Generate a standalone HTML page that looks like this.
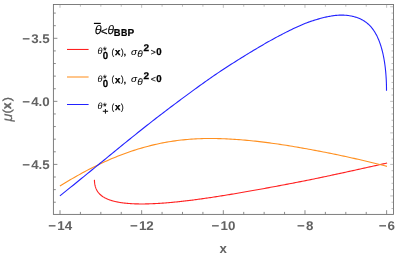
<!DOCTYPE html>
<html><head><meta charset="utf-8"><title>plot</title>
<style>
html,body{margin:0;padding:0;background:#fff;}
body{width:399px;height:257px;overflow:hidden;font-family:"Liberation Sans",sans-serif;}
svg{display:block;will-change:transform;text-rendering:geometricPrecision;font-family:"Liberation Sans",sans-serif;}
</style></head><body>
<svg width="399" height="257" viewBox="0 0 399 257">
<rect x="0" y="0" width="399" height="257" fill="#fff"/>
<g fill="none" stroke-width="1.1" stroke-linejoin="round" stroke-linecap="butt">
<path d="M94.39,179.90 L94.41,179.93 L94.43,180.42 L94.45,180.91 L94.48,181.39 L94.52,181.86 L94.56,182.32 L94.61,182.77 L94.67,183.22 L94.73,183.66 L94.80,184.09 L94.87,184.52 L94.95,184.94 L95.04,185.35 L95.14,185.75 L95.24,186.15 L95.35,186.54 L95.46,186.93 L95.58,187.31 L95.71,187.68 L95.84,188.05 L95.98,188.41 L96.13,188.77 L96.29,189.12 L96.45,189.46 L96.61,189.80 L96.79,190.13 L96.97,190.46 L97.15,190.78 L97.35,191.10 L97.55,191.41 L97.75,191.72 L97.97,192.02 L98.18,192.32 L98.41,192.61 L98.64,192.89 L98.88,193.18 L99.13,193.45 L99.38,193.73 L99.64,194.00 L99.90,194.26 L100.18,194.52 L100.45,194.78 L100.74,195.03 L101.03,195.27 L101.33,195.52 L101.63,195.76 L101.94,195.99 L102.26,196.22 L102.59,196.45 L102.92,196.67 L103.25,196.89 L103.60,197.10 L103.95,197.31 L104.30,197.52 L104.67,197.72 L105.04,197.92 L105.41,198.12 L105.80,198.31 L106.19,198.50 L106.58,198.69 L106.99,198.87 L107.39,199.05 L107.81,199.22 L108.23,199.39 L108.66,199.56 L109.10,199.72 L109.54,199.89 L109.99,200.04 L110.44,200.20 L110.90,200.35 L111.37,200.50 L111.85,200.64 L112.33,200.78 L112.82,200.92 L113.31,201.05 L113.81,201.18 L114.32,201.31 L114.83,201.44 L115.35,201.56 L115.88,201.68 L116.41,201.79 L116.95,201.91 L117.50,202.02 L118.05,202.12 L118.61,202.23 L119.18,202.33 L119.75,202.42 L120.33,202.52 L120.92,202.61 L121.51,202.70 L122.11,202.78 L122.72,202.86 L123.33,202.94 L123.95,203.02 L124.57,203.09 L125.21,203.16 L125.84,203.23 L126.49,203.29 L127.14,203.35 L127.80,203.41 L128.46,203.46 L129.13,203.52 L129.81,203.57 L130.50,203.61 L131.19,203.65 L131.88,203.69 L132.59,203.73 L133.30,203.77 L134.02,203.80 L134.74,203.83 L135.47,203.85 L136.21,203.87 L136.95,203.89 L137.70,203.91 L138.46,203.92 L139.22,203.93 L139.99,203.94 L140.76,203.95 L141.55,203.95 L142.33,203.95 L143.13,203.94 L143.93,203.94 L144.74,203.93 L145.56,203.91 L146.38,203.90 L147.21,203.88 L148.04,203.86 L148.88,203.84 L149.73,203.81 L150.59,203.78 L151.45,203.75 L152.31,203.71 L153.19,203.67 L154.07,203.63 L154.96,203.59 L155.85,203.54 L156.75,203.49 L157.66,203.44 L158.57,203.39 L159.49,203.33 L160.42,203.27 L161.35,203.21 L162.29,203.14 L163.24,203.08 L164.19,203.01 L165.15,202.93 L166.11,202.86 L167.09,202.78 L168.07,202.70 L169.05,202.62 L170.04,202.53 L171.04,202.44 L172.05,202.35 L173.06,202.26 L174.08,202.16 L175.10,202.06 L176.13,201.96 L177.17,201.85 L178.21,201.74 L179.27,201.63 L180.32,201.52 L181.39,201.40 L182.46,201.28 L183.53,201.16 L184.62,201.04 L185.71,200.91 L186.81,200.78 L187.91,200.64 L189.02,200.51 L190.14,200.37 L191.26,200.22 L192.39,200.08 L193.52,199.93 L194.67,199.78 L195.82,199.63 L196.97,199.48 L198.13,199.32 L199.30,199.16 L200.48,198.99 L201.66,198.83 L202.85,198.66 L204.04,198.49 L205.24,198.32 L206.45,198.15 L207.67,197.97 L208.89,197.79 L210.12,197.61 L211.35,197.42 L212.59,197.23 L213.84,197.04 L215.09,196.85 L216.35,196.66 L217.62,196.46 L218.89,196.26 L220.17,196.06 L221.46,195.86 L222.75,195.65 L224.05,195.44 L225.36,195.23 L226.67,195.02 L227.99,194.80 L229.32,194.59 L230.65,194.37 L231.99,194.15 L233.34,193.92 L234.69,193.69 L236.05,193.47 L237.41,193.23 L238.78,193.00 L240.16,192.77 L241.55,192.53 L242.94,192.29 L244.34,192.05 L245.74,191.80 L247.15,191.56 L248.57,191.31 L249.99,191.06 L251.42,190.81 L252.86,190.55 L254.31,190.30 L255.76,190.04 L257.21,189.77 L258.68,189.51 L260.15,189.25 L261.62,188.98 L263.11,188.71 L264.60,188.44 L266.09,188.16 L267.60,187.88 L269.10,187.61 L270.62,187.32 L272.14,187.04 L273.67,186.76 L275.21,186.47 L276.75,186.18 L278.30,185.89 L279.85,185.60 L281.41,185.30 L282.98,185.00 L284.56,184.71 L286.14,184.40 L287.73,184.10 L289.32,183.79 L290.92,183.49 L292.53,183.18 L294.14,182.86 L295.76,182.55 L297.39,182.23 L299.03,181.91 L300.67,181.59 L302.31,181.27 L303.97,180.94 L305.63,180.61 L307.29,180.28 L308.97,179.95 L310.65,179.61 L312.33,179.27 L314.02,178.93 L315.72,178.58 L317.43,178.23 L319.14,177.87 L320.86,177.51 L322.59,177.15 L324.32,176.78 L326.06,176.42 L327.80,176.04 L329.55,175.67 L331.31,175.29 L333.08,174.91 L334.85,174.53 L336.62,174.15 L338.41,173.76 L340.20,173.38 L342.00,172.99 L343.80,172.59 L345.61,172.20 L347.43,171.80 L349.25,171.40 L351.08,171.00 L352.92,170.60 L354.76,170.19 L356.61,169.79 L358.47,169.38 L360.33,168.97 L362.20,168.56 L364.08,168.15 L365.96,167.74 L367.85,167.32 L369.74,166.91 L371.65,166.49 L373.56,166.06 L375.47,165.63 L377.39,165.20 L379.32,164.77 L381.26,164.33 L383.20,163.89 L385.15,163.44 L387.10,162.99" stroke="#ff2020"/>
<path d="M59.90,185.96 L61.96,184.70 L64.01,183.45 L66.07,182.22 L68.13,181.00 L70.18,179.80 L72.24,178.61 L74.30,177.43 L76.35,176.26 L78.41,175.11 L80.47,173.97 L82.52,172.84 L84.58,171.73 L86.64,170.63 L88.69,169.55 L90.75,168.48 L92.81,167.43 L94.86,166.40 L96.92,165.39 L98.98,164.40 L101.03,163.43 L103.09,162.48 L105.15,161.54 L107.20,160.63 L109.26,159.74 L111.32,158.86 L113.37,158.01 L115.43,157.17 L117.48,156.34 L119.54,155.54 L121.60,154.75 L123.65,153.98 L125.71,153.23 L127.77,152.49 L129.82,151.77 L131.88,151.07 L133.94,150.39 L135.99,149.73 L138.05,149.09 L140.11,148.46 L142.16,147.86 L144.22,147.27 L146.28,146.70 L148.33,146.16 L150.39,145.63 L152.45,145.12 L154.50,144.64 L156.56,144.17 L158.62,143.72 L160.67,143.30 L162.73,142.89 L164.79,142.50 L166.84,142.14 L168.90,141.79 L170.96,141.46 L173.01,141.15 L175.07,140.85 L177.13,140.57 L179.18,140.31 L181.24,140.07 L183.30,139.85 L185.35,139.64 L187.41,139.45 L189.47,139.28 L191.52,139.12 L193.58,138.98 L195.64,138.86 L197.69,138.76 L199.75,138.68 L201.81,138.61 L203.86,138.55 L205.92,138.51 L207.98,138.49 L210.03,138.48 L212.09,138.49 L214.15,138.51 L216.20,138.54 L218.26,138.58 L220.32,138.64 L222.37,138.71 L224.43,138.79 L226.48,138.88 L228.54,138.99 L230.60,139.10 L232.65,139.22 L234.71,139.35 L236.77,139.50 L238.82,139.65 L240.88,139.80 L242.94,139.97 L244.99,140.14 L247.05,140.33 L249.11,140.52 L251.16,140.72 L253.22,140.93 L255.28,141.14 L257.33,141.37 L259.39,141.60 L261.45,141.84 L263.50,142.10 L265.56,142.36 L267.62,142.62 L269.67,142.90 L271.73,143.18 L273.79,143.47 L275.84,143.77 L277.90,144.07 L279.96,144.38 L282.01,144.69 L284.07,145.01 L286.13,145.33 L288.18,145.66 L290.24,145.99 L292.30,146.33 L294.35,146.68 L296.41,147.02 L298.47,147.37 L300.52,147.73 L302.58,148.09 L304.64,148.46 L306.69,148.83 L308.75,149.20 L310.81,149.58 L312.86,149.96 L314.92,150.35 L316.98,150.74 L319.03,151.13 L321.09,151.52 L323.15,151.92 L325.20,152.32 L327.26,152.73 L329.32,153.14 L331.37,153.55 L333.43,153.97 L335.48,154.39 L337.54,154.82 L339.60,155.25 L341.65,155.69 L343.71,156.13 L345.77,156.57 L347.82,157.02 L349.88,157.47 L351.94,157.93 L353.99,158.39 L356.05,158.85 L358.11,159.32 L360.16,159.79 L362.22,160.26 L364.28,160.74 L366.33,161.22 L368.39,161.71 L370.45,162.20 L372.50,162.70 L374.56,163.20 L376.62,163.71 L378.67,164.23 L380.73,164.76 L382.79,165.29 L384.84,165.84 L386.90,166.39" stroke="#ff9020"/>
<path d="M59.90,195.92 L62.08,194.17 L64.25,192.42 L66.42,190.68 L68.58,188.94 L70.73,187.19 L72.88,185.46 L75.01,183.72 L77.14,181.99 L79.27,180.27 L81.38,178.55 L83.49,176.83 L85.59,175.12 L87.68,173.41 L89.77,171.71 L91.85,170.02 L93.92,168.33 L95.98,166.65 L98.04,164.97 L100.09,163.29 L102.13,161.63 L104.17,159.96 L106.19,158.30 L108.21,156.64 L110.23,154.99 L112.23,153.35 L114.23,151.71 L116.22,150.09 L118.21,148.47 L120.18,146.86 L122.15,145.26 L124.11,143.66 L126.07,142.08 L128.01,140.51 L129.95,138.95 L131.89,137.40 L133.81,135.85 L135.73,134.31 L137.64,132.79 L139.54,131.27 L141.44,129.76 L143.33,128.26 L145.21,126.76 L147.08,125.28 L148.95,123.81 L150.81,122.35 L152.66,120.90 L154.51,119.46 L156.34,118.03 L158.17,116.62 L160.00,115.22 L161.81,113.83 L163.62,112.45 L165.42,111.09 L167.22,109.73 L169.00,108.38 L170.78,107.04 L172.55,105.71 L174.32,104.39 L176.08,103.07 L177.83,101.76 L179.57,100.46 L181.30,99.17 L183.03,97.88 L184.75,96.61 L186.47,95.34 L188.17,94.08 L189.87,92.84 L191.56,91.60 L193.25,90.37 L194.92,89.15 L196.59,87.94 L198.25,86.74 L199.91,85.55 L201.56,84.37 L203.20,83.20 L204.83,82.04 L206.46,80.88 L208.07,79.74 L209.68,78.61 L211.29,77.49 L212.89,76.39 L214.47,75.29 L216.06,74.21 L217.63,73.14 L219.20,72.09 L220.76,71.05 L222.31,70.02 L223.86,69.00 L225.39,67.99 L226.92,67.00 L228.45,66.01 L229.96,65.04 L231.47,64.07 L232.97,63.12 L234.47,62.17 L235.96,61.24 L237.43,60.31 L238.91,59.39 L240.37,58.47 L241.83,57.57 L243.28,56.67 L244.72,55.78 L246.16,54.90 L247.59,54.02 L249.01,53.15 L250.42,52.29 L251.83,51.43 L253.23,50.59 L254.62,49.75 L256.00,48.92 L257.38,48.10 L258.75,47.28 L260.11,46.48 L261.47,45.68 L262.82,44.90 L264.16,44.12 L265.49,43.35 L266.82,42.60 L268.14,41.85 L269.45,41.11 L270.75,40.38 L272.05,39.67 L273.34,38.96 L274.62,38.26 L275.90,37.57 L277.16,36.89 L278.42,36.22 L279.68,35.56 L280.92,34.90 L282.16,34.26 L283.39,33.62 L284.62,32.99 L285.83,32.37 L287.04,31.76 L288.24,31.15 L289.44,30.56 L290.63,29.97 L291.81,29.40 L292.98,28.83 L294.14,28.27 L295.30,27.72 L296.45,27.19 L297.60,26.66 L298.73,26.15 L299.86,25.65 L300.98,25.16 L302.10,24.69 L303.20,24.23 L304.30,23.78 L305.40,23.35 L306.48,22.93 L307.56,22.52 L308.63,22.13 L309.69,21.75 L310.75,21.39 L311.80,21.03 L312.84,20.69 L313.87,20.36 L314.90,20.03 L315.92,19.72 L316.93,19.42 L317.93,19.13 L318.93,18.85 L319.92,18.57 L320.90,18.31 L321.88,18.05 L322.85,17.81 L323.81,17.57 L324.76,17.34 L325.71,17.12 L326.65,16.91 L327.58,16.71 L328.50,16.53 L329.42,16.35 L330.33,16.18 L331.23,16.02 L332.13,15.88 L333.01,15.75 L333.89,15.63 L334.77,15.52 L335.63,15.42 L336.49,15.33 L337.34,15.26 L338.19,15.20 L339.02,15.16 L339.85,15.12 L340.67,15.10 L341.49,15.09 L342.30,15.10 L343.10,15.11 L343.89,15.14 L344.67,15.18 L345.45,15.23 L346.22,15.30 L346.99,15.37 L347.74,15.46 L348.49,15.56 L349.23,15.67 L349.97,15.79 L350.69,15.92 L351.41,16.06 L352.13,16.21 L352.83,16.37 L353.53,16.54 L354.22,16.73 L354.90,16.92 L355.58,17.12 L356.25,17.33 L356.91,17.55 L357.56,17.78 L358.21,18.03 L358.85,18.28 L359.48,18.55 L360.11,18.82 L360.72,19.11 L361.33,19.41 L361.94,19.72 L362.53,20.04 L363.12,20.37 L363.70,20.72 L364.27,21.08 L364.84,21.45 L365.40,21.84 L365.95,22.24 L366.50,22.65 L367.03,23.07 L367.56,23.51 L368.08,23.97 L368.60,24.43 L369.11,24.92 L369.61,25.41 L370.10,25.92 L370.59,26.45 L371.07,26.99 L371.54,27.54 L372.00,28.11 L372.46,28.70 L372.91,29.30 L373.35,29.91 L373.78,30.54 L374.21,31.19 L374.63,31.84 L375.04,32.52 L375.45,33.21 L375.85,33.91 L376.24,34.63 L376.62,35.36 L377.00,36.11 L377.37,36.87 L377.73,37.65 L378.08,38.44 L378.43,39.24 L378.77,40.06 L379.10,40.90 L379.43,41.75 L379.75,42.61 L380.06,43.48 L380.36,44.37 L380.65,45.28 L380.94,46.19 L381.22,47.12 L381.50,48.06 L381.77,49.02 L382.02,49.99 L382.28,50.97 L382.52,51.96 L382.76,52.97 L382.99,53.98 L383.21,55.01 L383.43,56.05 L383.64,57.11 L383.84,58.17 L384.03,59.24 L384.22,60.33 L384.40,61.42 L384.57,62.53 L384.73,63.64 L384.89,64.76 L385.04,65.90 L385.18,67.04 L385.32,68.19 L385.44,69.34 L385.56,70.51 L385.68,71.68 L385.78,72.86 L385.88,74.05 L385.97,75.24 L386.06,76.43 L386.13,77.64 L386.20,78.84 L386.27,80.05 L386.32,81.27 L386.37,82.48 L386.41,83.70 L386.44,84.92 L386.47,86.15 L386.49,87.37 L386.50,88.59 L386.50,89.82 L386.50,90.70" stroke="#2222ff"/>
</g>
<g stroke="#707070" stroke-width="0.9" fill="none">
<rect x="53.4" y="4.5" width="340.1" height="209.9"/>
<g stroke-width="0.85" stroke="#777">
<line x1="60.00" y1="214.4" x2="60.00" y2="210.20"/>
<line x1="80.41" y1="214.4" x2="80.41" y2="211.90"/>
<line x1="100.83" y1="214.4" x2="100.83" y2="211.90"/>
<line x1="121.25" y1="214.4" x2="121.25" y2="211.90"/>
<line x1="141.66" y1="214.4" x2="141.66" y2="210.20"/>
<line x1="162.07" y1="214.4" x2="162.07" y2="211.90"/>
<line x1="182.49" y1="214.4" x2="182.49" y2="211.90"/>
<line x1="202.91" y1="214.4" x2="202.91" y2="211.90"/>
<line x1="223.32" y1="214.4" x2="223.32" y2="210.20"/>
<line x1="243.73" y1="214.4" x2="243.73" y2="211.90"/>
<line x1="264.15" y1="214.4" x2="264.15" y2="211.90"/>
<line x1="284.56" y1="214.4" x2="284.56" y2="211.90"/>
<line x1="304.98" y1="214.4" x2="304.98" y2="210.20"/>
<line x1="325.39" y1="214.4" x2="325.39" y2="211.90"/>
<line x1="345.81" y1="214.4" x2="345.81" y2="211.90"/>
<line x1="366.22" y1="214.4" x2="366.22" y2="211.90"/>
<line x1="386.64" y1="214.4" x2="386.64" y2="210.20"/>
<line x1="53.4" y1="202.23" x2="55.80" y2="202.23"/>
<line x1="53.4" y1="189.62" x2="55.80" y2="189.62"/>
<line x1="53.4" y1="177.01" x2="55.80" y2="177.01"/>
<line x1="53.4" y1="164.40" x2="57.40" y2="164.40"/>
<line x1="53.4" y1="151.79" x2="55.80" y2="151.79"/>
<line x1="53.4" y1="139.18" x2="55.80" y2="139.18"/>
<line x1="53.4" y1="126.57" x2="55.80" y2="126.57"/>
<line x1="53.4" y1="113.96" x2="55.80" y2="113.96"/>
<line x1="53.4" y1="101.35" x2="57.40" y2="101.35"/>
<line x1="53.4" y1="88.74" x2="55.80" y2="88.74"/>
<line x1="53.4" y1="76.13" x2="55.80" y2="76.13"/>
<line x1="53.4" y1="63.52" x2="55.80" y2="63.52"/>
<line x1="53.4" y1="50.91" x2="55.80" y2="50.91"/>
<line x1="53.4" y1="38.30" x2="57.40" y2="38.30"/>
<line x1="53.4" y1="25.69" x2="55.80" y2="25.69"/>
<line x1="53.4" y1="13.08" x2="55.80" y2="13.08"/>
</g>
<g stroke-width="0.55" stroke="#8a8a8a">
<line x1="60.00" y1="4.5" x2="60.00" y2="7.80"/>
<line x1="80.41" y1="4.5" x2="80.41" y2="6.70"/>
<line x1="100.83" y1="4.5" x2="100.83" y2="6.70"/>
<line x1="121.25" y1="4.5" x2="121.25" y2="6.70"/>
<line x1="141.66" y1="4.5" x2="141.66" y2="7.80"/>
<line x1="162.07" y1="4.5" x2="162.07" y2="6.70"/>
<line x1="182.49" y1="4.5" x2="182.49" y2="6.70"/>
<line x1="202.91" y1="4.5" x2="202.91" y2="6.70"/>
<line x1="223.32" y1="4.5" x2="223.32" y2="7.80"/>
<line x1="243.73" y1="4.5" x2="243.73" y2="6.70"/>
<line x1="264.15" y1="4.5" x2="264.15" y2="6.70"/>
<line x1="284.56" y1="4.5" x2="284.56" y2="6.70"/>
<line x1="304.98" y1="4.5" x2="304.98" y2="7.80"/>
<line x1="325.39" y1="4.5" x2="325.39" y2="6.70"/>
<line x1="345.81" y1="4.5" x2="345.81" y2="6.70"/>
<line x1="366.22" y1="4.5" x2="366.22" y2="6.70"/>
<line x1="386.64" y1="4.5" x2="386.64" y2="7.80"/>
<line x1="393.5" y1="208.53" x2="391.50" y2="208.53"/>
<line x1="393.5" y1="202.23" x2="391.50" y2="202.23"/>
<line x1="393.5" y1="195.93" x2="390.20" y2="195.93"/>
<line x1="393.5" y1="189.62" x2="391.50" y2="189.62"/>
<line x1="393.5" y1="183.32" x2="391.50" y2="183.32"/>
<line x1="393.5" y1="177.01" x2="391.50" y2="177.01"/>
<line x1="393.5" y1="170.70" x2="391.50" y2="170.70"/>
<line x1="393.5" y1="164.40" x2="390.20" y2="164.40"/>
<line x1="393.5" y1="158.10" x2="391.50" y2="158.10"/>
<line x1="393.5" y1="151.79" x2="391.50" y2="151.79"/>
<line x1="393.5" y1="145.48" x2="391.50" y2="145.48"/>
<line x1="393.5" y1="139.18" x2="391.50" y2="139.18"/>
<line x1="393.5" y1="132.88" x2="390.20" y2="132.88"/>
<line x1="393.5" y1="126.57" x2="391.50" y2="126.57"/>
<line x1="393.5" y1="120.27" x2="391.50" y2="120.27"/>
<line x1="393.5" y1="113.96" x2="391.50" y2="113.96"/>
<line x1="393.5" y1="107.65" x2="391.50" y2="107.65"/>
<line x1="393.5" y1="101.35" x2="390.20" y2="101.35"/>
<line x1="393.5" y1="95.05" x2="391.50" y2="95.05"/>
<line x1="393.5" y1="88.74" x2="391.50" y2="88.74"/>
<line x1="393.5" y1="82.44" x2="391.50" y2="82.44"/>
<line x1="393.5" y1="76.13" x2="391.50" y2="76.13"/>
<line x1="393.5" y1="69.82" x2="390.20" y2="69.82"/>
<line x1="393.5" y1="63.52" x2="391.50" y2="63.52"/>
<line x1="393.5" y1="57.21" x2="391.50" y2="57.21"/>
<line x1="393.5" y1="50.91" x2="391.50" y2="50.91"/>
<line x1="393.5" y1="44.60" x2="391.50" y2="44.60"/>
<line x1="393.5" y1="38.30" x2="390.20" y2="38.30"/>
<line x1="393.5" y1="32.00" x2="391.50" y2="32.00"/>
<line x1="393.5" y1="25.69" x2="391.50" y2="25.69"/>
<line x1="393.5" y1="19.39" x2="391.50" y2="19.39"/>
<line x1="393.5" y1="13.08" x2="391.50" y2="13.08"/>
<line x1="393.5" y1="6.77" x2="390.20" y2="6.77"/>
</g>
</g>
<g fill="#626262" font-weight="bold" font-size="12.6">
<text transform="translate(49.70,42.50) scale(1.06,1)" text-anchor="end">−<tspan dx="1.1">3.5</tspan></text>
<text transform="translate(49.70,105.55) scale(1.06,1)" text-anchor="end">−<tspan dx="1.1">4.0</tspan></text>
<text transform="translate(49.70,168.60) scale(1.06,1)" text-anchor="end">−<tspan dx="1.1">4.5</tspan></text>
<text transform="translate(60.20,229.55) scale(1.06,1)" text-anchor="middle">−<tspan dx="1.1">14</tspan></text>
<text transform="translate(141.86,229.55) scale(1.06,1)" text-anchor="middle">−<tspan dx="1.1">12</tspan></text>
<text transform="translate(223.52,229.55) scale(1.06,1)" text-anchor="middle">−<tspan dx="1.1">10</tspan></text>
<text transform="translate(305.18,229.55) scale(1.06,1)" text-anchor="middle">−<tspan dx="1.1">8</tspan></text>
<text transform="translate(386.84,229.55) scale(1.06,1)" text-anchor="middle">−<tspan dx="1.1">6</tspan></text>
<text x="223.1" y="252.65" text-anchor="middle" font-size="13.2">x</text>
</g>
<g fill="#666" transform="translate(0,130) rotate(-90)">
<text transform="translate(8.40,12.16) scale(1.026,1)" font-size="14.02" font-style="italic" stroke="#666" stroke-width="0.2">μ</text><text transform="translate(16.41,10.70) scale(1.100,1)" font-size="11.59" stroke="#666" stroke-width="0.3">(</text><text transform="translate(21.02,11.20) scale(0.930,1)" font-size="12.30" font-weight="bold" stroke="#666" stroke-width="0.45">x</text><text transform="translate(28.73,10.70) scale(1.100,1)" font-size="11.59" stroke="#666" stroke-width="0.3">)</text>
</g>
<g fill="#000">
<line x1="93.9" y1="23.4" x2="100.8" y2="23.4" stroke="#000" stroke-width="1.2"/><text transform="translate(94.73,34.13) scale(1.016,1)" font-size="12.39" font-style="italic" stroke="#000" stroke-width="0.05">θ</text><text transform="translate(100.77,34.59) scale(1.045,1)" font-size="11.22" stroke="#000" stroke-width="0.15">&lt;</text><text transform="translate(107.56,34.13) scale(0.966,1)" font-size="12.39" font-style="italic" stroke="#000" stroke-width="0.05">θ</text><text transform="translate(113.82,36.05) scale(0.932,1)" font-size="10.03" font-weight="bold" stroke="#000" stroke-width="0.2">B</text><text transform="translate(121.06,36.05) scale(0.883,1)" font-size="10.03" font-weight="bold" stroke="#000" stroke-width="0.2">B</text><text transform="translate(127.58,36.05) scale(1.004,1)" font-size="10.03" font-weight="bold" stroke="#000" stroke-width="0.2">P</text><line x1="67" y1="49.45" x2="88.6" y2="49.45" stroke="#ff2020" stroke-width="1.05"/><text transform="translate(97.40,54.26) scale(0.996,1)" font-size="9.12" font-style="italic" stroke="#000" stroke-width="0.05">θ</text><text transform="translate(103.10,54.30) scale(0.903,1)" font-size="10.54" stroke="#000" stroke-width="0.15">*</text><text transform="translate(102.77,59.25) scale(0.938,1)" font-size="10.31" font-weight="bold" stroke="#000" stroke-width="0.25">0</text><text transform="translate(111.46,54.73) scale(0.900,1)" font-size="8.80" stroke="#000" stroke-width="0.15">(</text><text transform="translate(114.98,54.85) scale(1.034,1)" font-size="9.27" font-weight="bold" stroke="#000" stroke-width="0.3">x</text><text transform="translate(121.10,54.73) scale(0.900,1)" font-size="8.80" stroke="#000" stroke-width="0.15">)</text><text transform="translate(123.06,54.84) scale(1.296,1)" font-size="10.22" stroke="#000" stroke-width="0.15">,</text><text transform="translate(131.02,54.56) scale(1.074,1)" font-size="9.29" font-style="italic" stroke="#000" stroke-width="0.05">σ</text><text transform="translate(137.35,57.46) scale(1.093,1)" font-size="9.26" font-style="italic" stroke="#000" stroke-width="0.05">θ</text><text transform="translate(143.60,50.95) scale(1.061,1)" font-size="9.60" font-weight="bold" stroke="#000" stroke-width="0.25">2</text><text transform="translate(150.72,54.50) scale(0.998,1)" font-size="8.66" stroke="#000" stroke-width="0.15">&gt;</text><text transform="translate(156.17,54.65) scale(0.965,1)" font-size="10.03" font-weight="bold" stroke="#000" stroke-width="0.25">0</text><line x1="67" y1="77.0" x2="88.6" y2="77.0" stroke="#ff9020" stroke-width="1.05"/><text transform="translate(97.40,81.96) scale(0.996,1)" font-size="9.12" font-style="italic" stroke="#000" stroke-width="0.05">θ</text><text transform="translate(103.10,82.00) scale(0.903,1)" font-size="10.54" stroke="#000" stroke-width="0.15">*</text><text transform="translate(102.77,86.95) scale(0.938,1)" font-size="10.31" font-weight="bold" stroke="#000" stroke-width="0.25">0</text><text transform="translate(111.46,82.43) scale(0.900,1)" font-size="8.80" stroke="#000" stroke-width="0.15">(</text><text transform="translate(114.98,82.55) scale(1.034,1)" font-size="9.27" font-weight="bold" stroke="#000" stroke-width="0.3">x</text><text transform="translate(121.10,82.43) scale(0.900,1)" font-size="8.80" stroke="#000" stroke-width="0.15">)</text><text transform="translate(123.06,82.54) scale(1.296,1)" font-size="10.22" stroke="#000" stroke-width="0.15">,</text><text transform="translate(131.02,82.26) scale(1.074,1)" font-size="9.29" font-style="italic" stroke="#000" stroke-width="0.05">σ</text><text transform="translate(137.35,85.16) scale(1.093,1)" font-size="9.26" font-style="italic" stroke="#000" stroke-width="0.05">θ</text><text transform="translate(143.60,78.65) scale(1.061,1)" font-size="9.60" font-weight="bold" stroke="#000" stroke-width="0.25">2</text><text transform="translate(150.72,82.20) scale(0.998,1)" font-size="8.66" stroke="#000" stroke-width="0.15">&lt;</text><text transform="translate(156.17,82.35) scale(0.965,1)" font-size="10.03" font-weight="bold" stroke="#000" stroke-width="0.25">0</text><line x1="67" y1="104.5" x2="88.6" y2="104.5" stroke="#2222ff" stroke-width="1.05"/><text transform="translate(97.40,109.46) scale(0.996,1)" font-size="9.12" font-style="italic" stroke="#000" stroke-width="0.05">θ</text><text transform="translate(103.10,109.50) scale(0.903,1)" font-size="10.54" stroke="#000" stroke-width="0.15">*</text><text transform="translate(102.56,114.09) scale(1.204,1)" font-size="8.38" stroke="#000" stroke-width="0.3">+</text><text transform="translate(111.46,109.93) scale(0.900,1)" font-size="8.80" stroke="#000" stroke-width="0.15">(</text><text transform="translate(114.98,110.05) scale(1.034,1)" font-size="9.27" font-weight="bold" stroke="#000" stroke-width="0.3">x</text><text transform="translate(121.10,109.93) scale(0.900,1)" font-size="8.80" stroke="#000" stroke-width="0.15">)</text>
</g>
</svg>
</body></html>
